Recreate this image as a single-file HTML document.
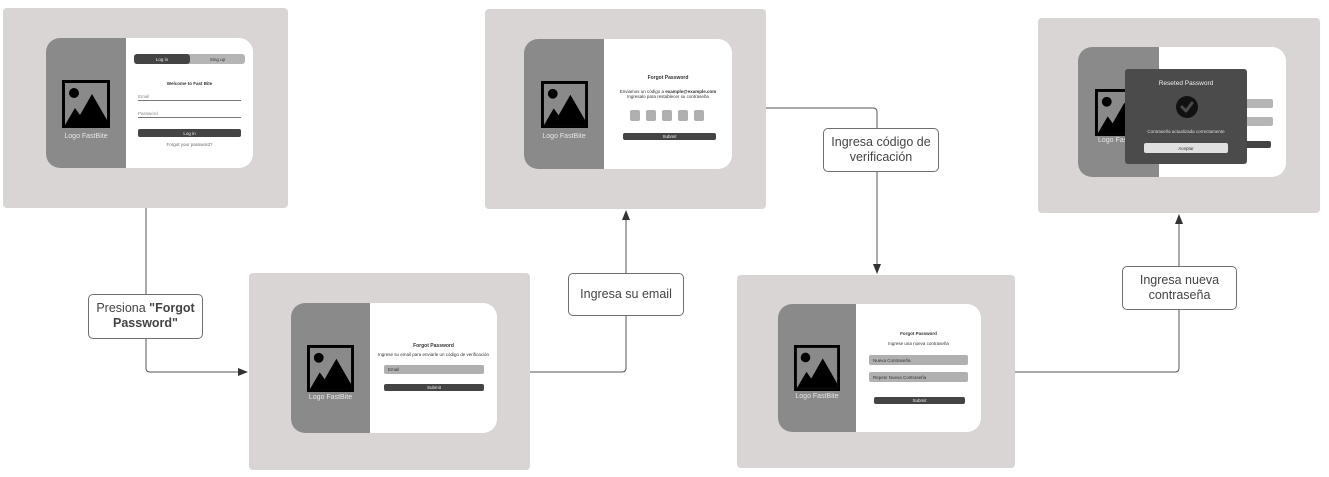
<!DOCTYPE html>
<html><head><meta charset="utf-8"><style>
*{margin:0;padding:0;box-sizing:border-box}
body{width:1329px;height:477px;background:#fff;position:relative;overflow:hidden;font-family:"Liberation Sans",sans-serif}
.a{position:absolute}
.frame{position:absolute;background:#d9d5d4;border-radius:4px}
.card{position:absolute;background:#fff;border-radius:14px;overflow:hidden}
.left{position:absolute;left:0;top:0;bottom:0;background:#8a8a8a}
.logo{position:absolute;color:#e6e6e6;font-size:7px;text-align:center;width:100%}
.t{position:absolute;text-align:center;font-size:4.5px;color:#333;white-space:nowrap}
.lbl{position:absolute;background:#fff;border:1px solid #6f6f6f;border-radius:5px;font-size:12.5px;color:#444;text-align:center;display:flex;align-items:center;justify-content:center;line-height:15px}
</style></head><body>

<svg class="a" style="left:0;top:0" width="1329" height="477">
<defs><marker id="ar" markerWidth="10" markerHeight="8" refX="9" refY="4" orient="auto" markerUnits="userSpaceOnUse"><path d="M0,0 L10,4 L0,8z" fill="#333"/></marker></defs>
<g fill="none" stroke="#555" stroke-width="1">
<path d="M146,208 V368 Q146,372 150,372 H247" marker-end="url(#ar)"/>
<path d="M530,372 H622 Q626,372 626,368 V211" marker-end="url(#ar)"/>
<path d="M766,108 H873 Q877,108 877,112 V273" marker-end="url(#ar)"/>
<path d="M1015,372 H1175 Q1179,372 1179,368 V215" marker-end="url(#ar)"/>
</g>
<symbol id="ic" viewBox="0 0 48 48"><rect x="1.5" y="1.5" width="45" height="45" fill="#8a8a8a" stroke="#000" stroke-width="3"/><circle cx="12" cy="13" r="5" fill="#000"/><path d="M3,45 L13,28 L18,35 L30,14 L45,40 V45z" fill="#000"/></symbol>
</svg>

<!-- Frame 1 -->
<div class="frame" style="left:3px;top:8px;width:285px;height:200px"></div>
<div class="card" style="left:46px;top:38px;width:207px;height:130px">
 <div class="left" style="width:80px"><div class="logo" style="top:95px">Logo FastBite</div></div>
 <div class="a" style="left:88px;top:16px;width:111px;height:10px;background:#b5b5b5;border-radius:3px"></div>
 <div class="a" style="left:88px;top:16px;width:56px;height:10px;background:#444;border-radius:3px"></div>
 <div class="t" style="left:88px;top:19px;width:56px;color:#eee">Log in</div>
 <div class="t" style="left:144px;top:19px;width:55px">Sing up</div>
 <div class="t" style="left:88px;top:43px;width:111px;font-weight:bold">Welcome to Fast Bite</div>
 <div class="t" style="left:92px;top:56px;text-align:left;color:#888">Email</div>
 <div class="a" style="left:92px;top:62px;width:103px;height:1px;background:#777"></div>
 <div class="t" style="left:92px;top:73px;text-align:left;color:#888">Password</div>
 <div class="a" style="left:92px;top:79px;width:103px;height:1px;background:#777"></div>
 <div class="a" style="left:92px;top:91px;width:103px;height:8px;background:#444;border-radius:2px"></div>
 <div class="t" style="left:92px;top:93px;width:103px;color:#eee">Log in</div>
 <div class="t" style="left:92px;top:104px;width:103px;color:#666">Forgot your password?</div>
</div>
<svg class="a" style="left:62px;top:80px" width="48" height="48"><use href="#ic"/></svg>

<!-- Frame 2 -->
<div class="frame" style="left:485px;top:9px;width:281px;height:200px"></div>
<div class="card" style="left:524px;top:39px;width:208px;height:130px">
 <div class="left" style="width:80px"><div class="logo" style="top:94px">Logo FastBite</div></div>
 <div class="t" style="left:80px;top:36px;width:128px;font-weight:bold;font-size:5px">Forgot Password</div>
 <div class="t" style="left:80px;top:50px;width:128px">Enviamos un código a <b>example@example.com</b></div>
 <div class="t" style="left:80px;top:55px;width:128px">Ingresalo para restablecer su contraseña</div>
 <div class="a" style="left:106px;top:71px;width:10px;height:11px;background:#b0b0b0;border-radius:2px"></div>
 <div class="a" style="left:122px;top:71px;width:10px;height:11px;background:#b0b0b0;border-radius:2px"></div>
 <div class="a" style="left:138px;top:71px;width:10px;height:11px;background:#b0b0b0;border-radius:2px"></div>
 <div class="a" style="left:154px;top:71px;width:10px;height:11px;background:#b0b0b0;border-radius:2px"></div>
 <div class="a" style="left:170px;top:71px;width:10px;height:11px;background:#b0b0b0;border-radius:2px"></div>
 <div class="a" style="left:99px;top:94px;width:93px;height:7px;background:#444;border-radius:2px"></div>
 <div class="t" style="left:99px;top:95px;width:93px;color:#eee">Submit</div>
</div>
<svg class="a" style="left:541px;top:81px" width="47" height="47"><use href="#ic"/></svg>

<!-- Frame 3 -->
<div class="frame" style="left:1038px;top:18px;width:282px;height:195px"></div>
<div class="card" style="left:1078px;top:47px;width:208px;height:130px">
 <div class="left" style="width:81px"><div class="logo" style="top:90px;text-align:left;left:20px">Logo Fas</div></div>
 <div class="a" style="left:160px;top:52px;width:35px;height:9px;background:#b5b5b5;border-radius:2px"></div>
 <div class="a" style="left:160px;top:70px;width:35px;height:9px;background:#b5b5b5;border-radius:2px"></div>
 <div class="a" style="left:160px;top:94px;width:33px;height:7px;background:#444;border-radius:2px"></div>
</div>
<svg class="a" style="left:1095px;top:89px" width="47" height="47"><use href="#ic"/></svg>
<div class="a" style="left:1125px;top:69px;width:122px;height:95px;background:#4b4b4b;border-radius:3px">
 <div class="t" style="left:0;top:11px;width:122px;color:#eee;font-size:6.5px">Reseted Password</div>
 <div class="a" style="left:51px;top:27px;width:22px;height:22px;border-radius:50%;background:#111"></div>
 <svg class="a" style="left:51px;top:27px" width="22" height="22"><path d="M6,11 L10,15 L16,7" fill="none" stroke="#4b4b4b" stroke-width="3" stroke-linecap="round" stroke-linejoin="round"/></svg>
 <div class="t" style="left:0;top:60px;width:122px;color:#ddd">Contraseña actualizada correctamente</div>
 <div class="a" style="left:19px;top:74px;width:84px;height:10px;background:#e0e0e0;border-radius:2px"></div>
 <div class="t" style="left:19px;top:77px;width:84px">Aceptar</div>
</div>

<!-- Frame 4 -->
<div class="frame" style="left:249px;top:273px;width:281px;height:197px"></div>
<div class="card" style="left:291px;top:303px;width:206px;height:130px">
 <div class="left" style="width:79px"><div class="logo" style="top:91px">Logo FastBite</div></div>
 <div class="t" style="left:79px;top:40px;width:127px;font-weight:bold;font-size:5px">Forgot Password</div>
 <div class="t" style="left:79px;top:49px;width:127px">Ingrese su email para enviarle un código de verificación</div>
 <div class="a" style="left:93px;top:62px;width:100px;height:9px;background:#b0b0b0;border-radius:2px"></div>
 <div class="t" style="left:97px;top:64px;text-align:left">Email</div>
 <div class="a" style="left:93px;top:81px;width:100px;height:7px;background:#444;border-radius:2px"></div>
 <div class="t" style="left:93px;top:82px;width:100px;color:#eee">Submit</div>
</div>
<svg class="a" style="left:307px;top:345px" width="47" height="47"><use href="#ic"/></svg>

<!-- Frame 5 -->
<div class="frame" style="left:737px;top:275px;width:278px;height:193px"></div>
<div class="card" style="left:778px;top:304px;width:203px;height:128px">
 <div class="left" style="width:78px"><div class="logo" style="top:89px">Logo FastBite</div></div>
 <div class="t" style="left:78px;top:27px;width:125px;font-weight:bold">Forgot Password</div>
 <div class="t" style="left:78px;top:37px;width:125px">Ingrese una nueva contraseña</div>
 <div class="a" style="left:91px;top:51px;width:99px;height:10px;background:#b0b0b0;border-radius:2px"></div>
 <div class="t" style="left:95px;top:54px;text-align:left">Nueva Contraseña</div>
 <div class="a" style="left:91px;top:68px;width:99px;height:10px;background:#b0b0b0;border-radius:2px"></div>
 <div class="t" style="left:95px;top:71px;text-align:left">Repetir Nueva Contraseña</div>
 <div class="a" style="left:96px;top:93px;width:91px;height:7px;background:#444;border-radius:2px"></div>
 <div class="t" style="left:96px;top:94px;width:91px;color:#eee">Submit</div>
</div>
<svg class="a" style="left:794px;top:345px" width="46" height="46"><use href="#ic"/></svg>

<!-- Labels -->
<div class="a" style="left:88px;top:294px;width:115px;height:45px;background:#fff;border:1px solid #6f6f6f;border-radius:5px;font-size:12.5px;color:#444;text-align:center;line-height:15px;padding-top:6px">Presiona <b>"Forgot</b><br><b>Password"</b></div>
<div class="lbl" style="left:568px;top:273px;width:116px;height:43px">Ingresa su email</div>
<div class="lbl" style="left:823px;top:128px;width:116px;height:44px">Ingresa código de<br>verificación</div>
<div class="lbl" style="left:1122px;top:266px;width:115px;height:44px">Ingresa nueva<br>contraseña</div>
</body></html>
